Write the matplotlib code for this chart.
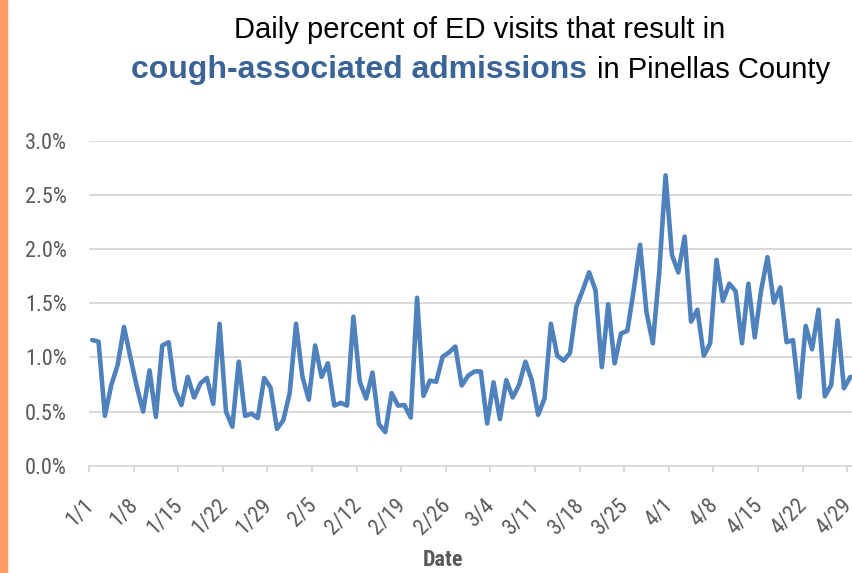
import numpy as np
import matplotlib.pyplot as plt
from matplotlib.patches import Rectangle
from matplotlib.transforms import ScaledTranslation

# daily % of ED visits resulting in cough-associated admissions, 1/1 .. 4/29
pct = [
    1.16, 1.145, 0.46, 0.745, 0.93, 1.28, 1.0, 0.73, 0.50, 0.88,
    0.45, 1.11, 1.14, 0.70, 0.56, 0.82, 0.63, 0.76, 0.81, 0.57,
    1.31, 0.50, 0.36, 0.96, 0.46, 0.48, 0.44, 0.81, 0.72, 0.34,
    0.42, 0.67, 1.31, 0.82, 0.61, 1.11, 0.82, 0.945, 0.555, 0.58,
    0.555, 1.375, 0.775, 0.62, 0.86, 0.385, 0.31, 0.67, 0.555, 0.56,
    0.445, 1.55, 0.645, 0.785, 0.775, 1.005, 1.045, 1.10, 0.74, 0.83,
    0.87, 0.87, 0.39, 0.77, 0.43, 0.79, 0.63, 0.745, 0.96, 0.79,
    0.47, 0.62, 1.31, 1.015, 0.97, 1.04, 1.47, 1.62, 1.785, 1.62,
    0.91, 1.49, 0.945, 1.22, 1.245, 1.62, 2.04, 1.42, 1.13, 1.78,
    2.68, 1.945, 1.785, 2.115, 1.33, 1.44, 1.015, 1.13, 1.90, 1.52,
    1.68, 1.61, 1.13, 1.68, 1.185, 1.62, 1.925, 1.505, 1.645, 1.14,
    1.16, 0.63, 1.29, 1.075, 1.44, 0.64, 0.745, 1.34, 0.715, 0.82,
]
tick_labels = ['1/1', '1/8', '1/15', '1/22', '1/29', '2/5', '2/12', '2/19', '2/26',
               '3/4', '3/11', '3/18', '3/25', '4/1', '4/8', '4/15', '4/22', '4/29']
y_ticks = [0.0, 0.5, 1.0, 1.5, 2.0, 2.5, 3.0]

narrow = ['Roboto Condensed', 'Liberation Sans Narrow', 'DejaVu Sans']
grey = '#595959'
W, H = 853, 573

fig = plt.figure(figsize=(W / 100, H / 100), dpi=100)
fig.patches.append(Rectangle((0, 0), 7 / W, 1, transform=fig.transFigure,
                             color='#FF9B63', zorder=0))

ax = fig.add_axes([89 / W, 1 - 465.7 / H, (853.5 - 89) / W, (465.7 - 140.7) / H])
days = np.arange(len(pct))
ax.plot(days, pct, color='#4F81BD', lw=3.3, solid_joinstyle='round',
        solid_capstyle='round', clip_on=False, zorder=3)

ax.set_xlim(-0.5, len(pct) - 0.5)
ax.set_ylim(0, 3.0)
ax.set_yticks(y_ticks)
ax.set_yticklabels([f'{v:.1f}%' for v in y_ticks], family=narrow, stretch='condensed')
ax.grid(axis='y', color='#D9D9D9', lw=1.4)
ax.set_axisbelow(True)
for s in ['top', 'right', 'left']:
    ax.spines[s].set_visible(False)
ax.spines['bottom'].set_color('#D9D9D9')
ax.spines['bottom'].set_linewidth(1.4)

ax.set_xticks([7 * i - 0.5 for i in range(len(tick_labels))])
ax.set_xticklabels(tick_labels, rotation=45, ha='right', va='top',
                   family=narrow, stretch='condensed')
ax.tick_params(axis='x', length=4, width=1.4, color='#D9D9D9', pad=17,
               labelsize=16, labelcolor=grey)
ax.tick_params(axis='y', length=0, pad=16, labelsize=16, labelcolor=grey)
# excel puts the rotated label a little right of its tick
shift = ScaledTranslation(9 / 100, 0, fig.dpi_scale_trans)
for lbl in ax.get_xticklabels():
    lbl.set_transform(lbl.get_transform() + shift)

fig.text(443 / W, 1 - 560 / H, 'Date', ha='center', va='center', fontsize=16,
         fontweight='bold', color=grey, family=narrow, stretch='condensed')

fig.text(480 / W, 1 - 30 / H, 'Daily percent of ED visits that result in',
         ha='center', va='center', fontsize=21, family='Liberation Sans', color='black')
fig.text(587 / W, 1 - 70 / H, 'cough-associated admissions', ha='right', va='center',
         fontsize=23, fontweight='bold', family='Liberation Sans', color='#3B6496')
fig.text(597 / W, 1 - 70 / H, 'in Pinellas County', ha='left', va='center',
         fontsize=21, family='Liberation Sans', color='black')

fig.savefig('out.png', dpi=100)
